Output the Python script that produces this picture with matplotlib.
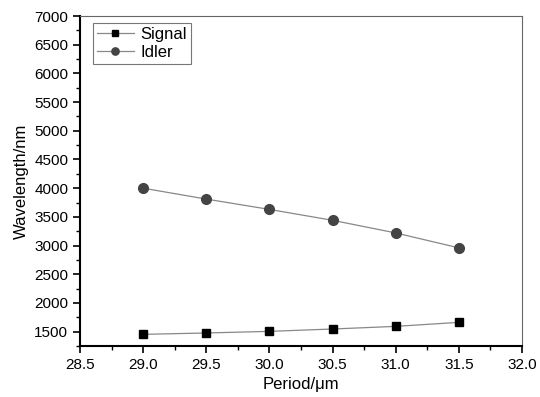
import matplotlib
matplotlib.use("Agg")
import matplotlib.pyplot as plt
from matplotlib.ticker import MultipleLocator

plt.rcParams['font.family'] = ['Liberation Sans', 'DejaVu Sans']

period = [29.0, 29.5, 30.0, 30.5, 31.0, 31.5]
signal = [1453, 1477, 1505, 1546, 1592, 1662]
idler = [4000, 3810, 3630, 3440, 3220, 2960]

fig = plt.figure(figsize=(5.4, 3.97), dpi=100)
ax = fig.add_axes([80 / 540, 1 - 346 / 397, 442 / 540, 330 / 397])

ax.plot(period, signal, color='#888888', lw=0.9, marker='s', ms=6,
        mfc='black', mec='black', label='Signal')
ax.plot(period, idler, color='#888888', lw=0.9, marker='o', ms=7,
        mfc='#444444', mec='#444444', label='Idler')

ax.set_xlim(28.5, 32.0)
ax.set_ylim(1250, 7000)
ax.xaxis.set_major_locator(MultipleLocator(0.5))
ax.xaxis.set_minor_locator(MultipleLocator(0.25))
ax.yaxis.set_major_locator(MultipleLocator(500))
ax.yaxis.set_minor_locator(MultipleLocator(250))
ax.xaxis.set_major_formatter(plt.FormatStrFormatter('%.1f'))
ax.tick_params(which='major', direction='out', length=5, width=1.2, labelsize=11)
ax.tick_params(which='minor', direction='out', length=3, width=1)
for s in ['left', 'bottom']:
    ax.spines[s].set_linewidth(1.5)
for s in ['top', 'right']:
    ax.spines[s].set_linewidth(0.8)
    ax.spines[s].set_color('#666666')

ax.set_xlabel("Period/\u03bcm", fontsize=12)
ax.set_ylabel("Wavelength/nm", fontsize=12)

leg = ax.legend(loc='upper left', fontsize=12, frameon=True, fancybox=False,
                edgecolor='#555555', handlelength=2.2, borderpad=0.25,
                labelspacing=0.15, markerscale=0.75, borderaxespad=0,
                handletextpad=0.4, bbox_to_anchor=(0.029, 0.979))
leg.get_frame().set_linewidth(0.8)

fig.savefig("out.png", dpi=100)
